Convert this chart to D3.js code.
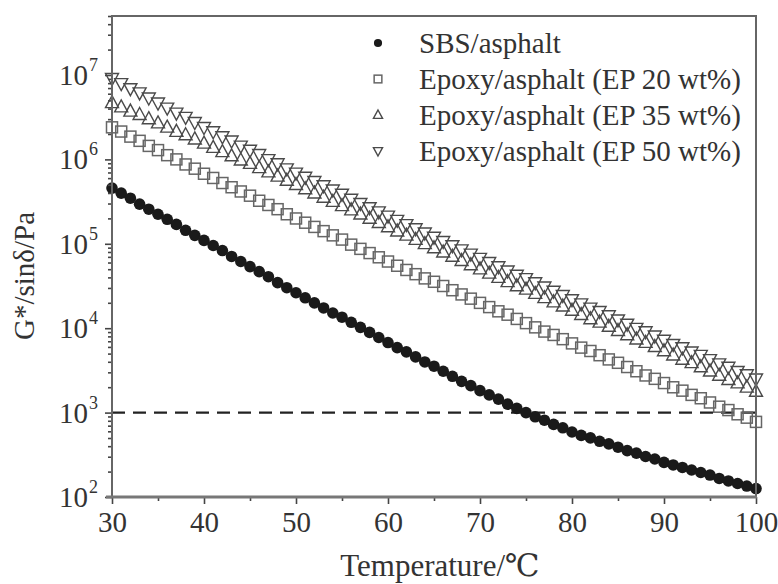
<!DOCTYPE html>
<html><head><meta charset="utf-8">
<script src="https://cdn.jsdelivr.net/npm/d3@7"></script>
<style>body{margin:0;background:#fff}svg{display:block}</style>
</head><body>
<svg id="c" width="778" height="584"></svg>
<script>
// Temperatures (°C)
const temps = d3.range(30, 101, 1);
// log10(G*/sinδ / Pa), one value per °C from 30 to 100
const sbsLog = [5.66,5.60,5.54,5.47,5.41,5.35,5.29,5.23,5.16,5.10,
  5.04,4.98,4.92,4.85,4.79,4.73,4.67,4.61,4.54,4.48,
  4.42,4.36,4.30,4.24,4.18,4.13,4.07,4.01,3.95,3.89,
  3.83,3.77,3.72,3.66,3.60,3.55,3.49,3.43,3.37,3.32,
  3.26,3.21,3.16,3.10,3.05,3.00,2.95,2.91,2.86,2.82,
  2.77,2.73,2.70,2.66,2.63,2.59,2.55,2.52,2.48,2.45,
  2.41,2.38,2.35,2.32,2.29,2.26,2.22,2.19,2.16,2.13,2.10];
const ep20Log = [6.38,6.33,6.27,6.22,6.16,6.11,6.05,6.00,5.94,5.89,
  5.83,5.78,5.72,5.67,5.62,5.57,5.51,5.46,5.41,5.35,
  5.30,5.25,5.20,5.15,5.10,5.05,4.99,4.94,4.89,4.84,
  4.79,4.74,4.69,4.64,4.59,4.55,4.50,4.45,4.40,4.35,
  4.30,4.25,4.20,4.16,4.11,4.06,4.01,3.96,3.92,3.87,
  3.82,3.77,3.73,3.68,3.63,3.59,3.54,3.49,3.44,3.40,
  3.35,3.30,3.26,3.21,3.17,3.12,3.07,3.03,2.98,2.94,2.89];
const ep35Log = [6.67,6.62,6.57,6.53,6.48,6.43,6.38,6.33,6.29,6.24,
  6.19,6.14,6.09,6.04,5.99,5.95,5.90,5.85,5.80,5.75,
  5.70,5.65,5.60,5.55,5.50,5.45,5.40,5.35,5.30,5.25,
  5.20,5.15,5.10,5.05,5.00,4.95,4.90,4.85,4.80,4.75,
  4.70,4.65,4.60,4.55,4.50,4.46,4.41,4.36,4.31,4.26,
  4.21,4.16,4.11,4.07,4.02,3.97,3.92,3.87,3.83,3.78,
  3.73,3.68,3.63,3.59,3.54,3.49,3.44,3.39,3.35,3.30,3.25];
const ep50Log = [6.96,6.90,6.84,6.79,6.73,6.67,6.61,6.55,6.50,6.44,
  6.38,6.33,6.27,6.22,6.16,6.11,6.06,6.00,5.95,5.89,
  5.84,5.79,5.74,5.69,5.64,5.59,5.53,5.48,5.43,5.38,
  5.33,5.28,5.23,5.18,5.13,5.08,5.03,4.98,4.93,4.88,
  4.83,4.78,4.73,4.68,4.63,4.59,4.54,4.49,4.44,4.39,
  4.34,4.29,4.24,4.20,4.15,4.10,4.05,4.00,3.96,3.91,
  3.86,3.81,3.77,3.72,3.68,3.63,3.58,3.54,3.49,3.45,3.40];
const seriesNames = ["SBS/asphalt","Epoxy/asphalt (EP 20 wt%)","Epoxy/asphalt (EP 35 wt%)","Epoxy/asphalt (EP 50 wt%)"];
const xTicks = [30,40,50,60,70,80,90,100];
const xMinorTicks = [35,45,55,65,75,85,95];
const yExponents = [2,3,4,5,6,7];
const yDomain = [1e2, 5e7];
const criterion = 1e3;

const svg = d3.select("#c");
const L = 112, R = 756, T = 16, B = 497;
const x = d3.scaleLinear().domain([30,100]).range([L,R]);
const y = d3.scaleLog().domain(yDomain).range([B,T]);
const font = "'Liberation Serif','Times New Roman','DejaVu Serif',serif";

// criterion dashed line
svg.append("line").attr("x1",L).attr("x2",R).attr("y1",y(criterion)).attr("y2",y(criterion))
  .attr("stroke","#222").attr("stroke-width",2.4).attr("stroke-dasharray","13,8");

const g = svg.append("g");
const series = [
  {name:seriesNames[0], vals:sbsLog, kind:"circle"},
  {name:seriesNames[1], vals:ep20Log, kind:"square"},
  {name:seriesNames[2], vals:ep35Log, kind:"up"},
  {name:seriesNames[3], vals:ep50Log, kind:"down"}
];
function drawMarker(sel, kind, scale){
  if(kind==="circle"){
    sel.append("circle").attr("r",5.8*scale).attr("fill","#1a1a1a");
  } else if(kind==="square"){
    const s=11*scale;
    sel.append("rect").attr("x",-s/2).attr("y",-s/2).attr("width",s).attr("height",s)
      .attr("fill","none").attr("stroke","#666").attr("stroke-width",1.5);
  } else {
    const h=12*scale, w=13*scale;
    const p = kind==="up" ? [[0,-h*0.6],[w/2,h*0.4],[-w/2,h*0.4]] : [[0,h*0.6],[w/2,-h*0.4],[-w/2,-h*0.4]];
    sel.append("path").attr("d","M"+p.map(q=>q.join(",")).join("L")+"Z")
      .attr("fill","none").attr("stroke","#4a4a4a").attr("stroke-width",1.4);
  }
}
[3,2,1,0].forEach(i=>{
  const s = series[i];
  const gg = g.append("g");
  s.vals.forEach((v,j)=>{
    const m = gg.append("g").attr("transform",`translate(${x(temps[j])},${y(Math.pow(10,v))})`);
    drawMarker(m, s.kind, 1);
  });
});

// axes
const axCol = "#666";
const xAxis = svg.append("g").attr("transform",`translate(0,${B})`)
  .call(d3.axisBottom(x).tickValues(xTicks).tickSize(7).tickPadding(6).tickFormat(d3.format("d")));
svg.append("g").attr("transform",`translate(0,${B})`)
  .call(d3.axisBottom(x).tickValues(xMinorTicks).tickSize(4).tickFormat(""));
const minor = [];
for(let e=2;e<=7;e++) for(let k=2;k<=9;k++){ const v=k*Math.pow(10,e); if(v<=yDomain[1]) minor.push(v); }
svg.append("g").attr("transform",`translate(${L},0)`)
  .call(d3.axisLeft(y).tickValues(minor).tickSize(4).tickFormat(""));
svg.append("g").attr("transform",`translate(${L},0)`)
  .call(d3.axisLeft(y).tickValues(yExponents.map(e=>Math.pow(10,e))).tickSize(7).tickFormat(""));
svg.selectAll(".domain").remove();
svg.selectAll(".tick line").attr("stroke","#444").attr("stroke-width",1.6);
xAxis.selectAll("text").attr("font-family",font).attr("font-size",29).attr("fill","#333").attr("dy","0.75em");

// y labels with superscripts
yExponents.forEach(e=>{
  svg.append("text").attr("x",88).attr("y",y(Math.pow(10,e))+10)
    .attr("text-anchor","end").attr("font-family",font).attr("font-size",29).attr("fill","#333").text("10");
  svg.append("text").attr("x",89).attr("y",y(Math.pow(10,e))-4)
    .attr("font-family",font).attr("font-size",18).attr("fill","#333").text(e);
});

// frame
svg.append("rect").attr("x",L).attr("y",T).attr("width",R-L).attr("height",B-T)
  .attr("fill","none").attr("stroke",axCol).attr("stroke-width",2);
svg.append("line").attr("x1",L-6).attr("x2",R+1).attr("y1",B).attr("y2",B).attr("stroke","#777").attr("stroke-width",3.2);

// titles
svg.append("text").attr("transform","translate(34,276) rotate(-90)").attr("text-anchor","middle")
  .attr("font-family",font).attr("font-size",29).attr("fill","#333").text("G*/sinδ/Pa");
svg.append("text").attr("x",440).attr("y",576).attr("text-anchor","middle")
  .attr("font-family",font).attr("font-size",31).attr("fill","#333").text("Temperature/℃");

// legend
const legY = [43,79,115,151];
series.forEach((s,i)=>{
  const m = svg.append("g").attr("transform",`translate(378,${legY[i]})`);
  drawMarker(m, s.kind, 0.7);
  svg.append("text").attr("x",419).attr("y",legY[i]).attr("dy","0.35em")
    .attr("font-family",font).attr("font-size",29).attr("fill","#333").text(s.name);
});
</script>
</body></html>
